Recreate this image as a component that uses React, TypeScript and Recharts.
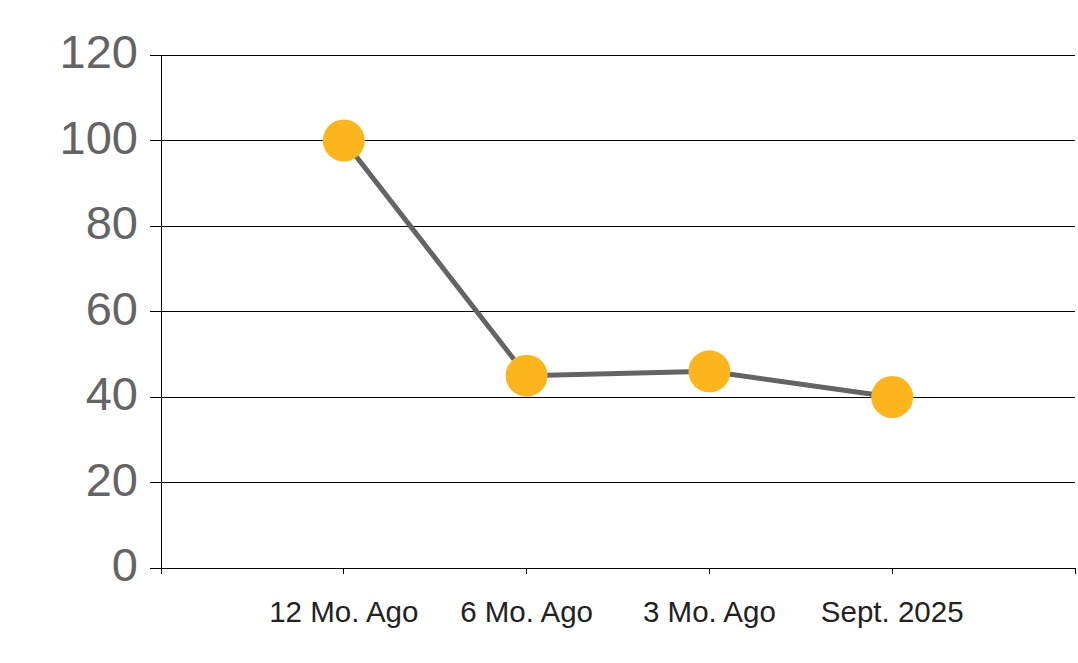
import React from 'react';
import { LineChart, Line, XAxis, YAxis, CartesianGrid } from 'recharts';

const categories = ['12 Mo. Ago', '6 Mo. Ago', '3 Mo. Ago', 'Sept. 2025'];
const values = [100, 45, 46, 40];
const yTicks = [0, 20, 40, 60, 80, 100, 120];
const xTicks = [0, 1, 2, 3, 4, 5];

const data = categories.map((c, i) => ({ x: i + 1, name: c, value: values[i] }));

const FONT = '"Liberation Sans", Arial, Helvetica, sans-serif';

const YTick = (props: any) => {
  const { x, y, payload } = props;
  return (
    <text x={x} y={y} dy={13} textAnchor="end" fontSize={47} fill="#646464" fontFamily={FONT}>
      {payload.value}
    </text>
  );
};

const XTick = (props: any) => {
  const { x, y, payload } = props;
  const idx = payload.value - 1;
  const label = idx >= 0 && idx < categories.length ? categories[idx] : '';
  return (
    <text x={x} y={y} dy={48} textAnchor="middle" fontSize={29.5} fill="#222222" fontFamily={FONT}>
      {label}
    </text>
  );
};

export default function App() {
  return (
    <div style={{ position: 'absolute', left: 0, top: 0, background: '#fff' }}>
      <LineChart width={1078} height={663} data={data} margin={{ top: 55, right: 3, left: 0, bottom: 0 }}>
        <CartesianGrid vertical={false} stroke="#000" strokeWidth={1} shapeRendering="crispEdges" />
        <XAxis
          dataKey="x"
          type="number"
          domain={[0, 5]}
          ticks={xTicks}
          interval={0}
          height={95}
          tickSize={6}
          tickMargin={0}
          axisLine={{ stroke: '#000', strokeWidth: 1, shapeRendering: 'crispEdges' }}
          tickLine={{ stroke: '#000', strokeWidth: 1, shapeRendering: 'crispEdges' }}
          tick={<XTick />}
        />
        <YAxis
          type="number"
          domain={[0, 120]}
          ticks={yTicks}
          interval={0}
          width={161}
          tickSize={11}
          tickMargin={12}
          axisLine={{ stroke: '#000', strokeWidth: 1, shapeRendering: 'crispEdges' }}
          tickLine={{ stroke: '#000', strokeWidth: 1, shapeRendering: 'crispEdges' }}
          tick={<YTick />}
        />
        <Line
          type="linear"
          dataKey="value"
          stroke="#646464"
          strokeWidth={5}
          dot={{ r: 21, fill: '#FCB51C', stroke: '#FCB51C', strokeWidth: 0 }}
          activeDot={false}
          isAnimationActive={false}
        />
      </LineChart>
    </div>
  );
}
